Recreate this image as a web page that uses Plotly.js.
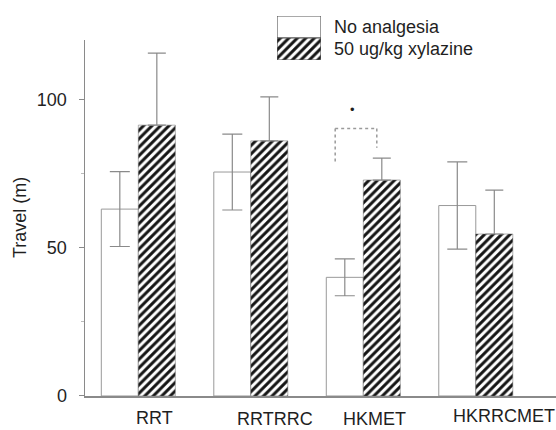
<!DOCTYPE html>
<html>
<head>
<meta charset="utf-8">
<script src="https://cdn.plot.ly/plotly-3.0.1.min.js"></script>
<style>
  html, body { margin: 0; padding: 0; background: #fff; }
  #chart { width: 556px; height: 430px; }
</style>
</head>
<body>
<div id="chart"></div>
<script>
// Travel distance (m) per test, with and without xylazine
const categories = ['RRT', 'RRTRRC', 'HKMET', 'HKRRCMET'];
const noAnalgesia = [63, 75.5, 40, 64.2];
const noAnalgesiaErr = [12.6, 12.8, 6.2, 14.7];
const xylazine = [91.3, 86, 72.8, 54.6];
const xylazineErr = [24.3, 14.8, 7.4, 14.8];
const seriesNames = ['No analgesia', '50 ug/kg xylazine'];
const yTicks = [0, 50, 100];
const significantGroup = 'HKMET';

const FONT = '"Liberation Sans", Arial, Helvetica, sans-serif';
const INK = '#1f1f1f';
const GREY = '#8a8a8a';

const xIdx = categories.map((_, i) => i);
const hatch = { shape: '/', fgcolor: '#151515', bgcolor: '#ffffff', size: 6, solidity: 0.5 };

const traces = [
  {
    type: 'bar', name: seriesNames[0], x: xIdx, y: noAnalgesia,
    marker: { color: '#ffffff', line: { color: '#999', width: 1 } },
    error_y: { type: 'data', array: noAnalgesiaErr, visible: true, color: GREY, thickness: 1.2, width: 10 },
    showlegend: false, hoverinfo: 'skip'
  },
  {
    type: 'bar', name: seriesNames[1], x: xIdx, y: xylazine,
    marker: { color: '#ffffff', pattern: hatch, line: { color: '#666', width: 0.5 } },
    error_y: { type: 'data', symmetric: false, array: xylazineErr, arrayminus: xylazineErr.map(() => 0),
               visible: true, color: GREY, thickness: 1.2, width: 9 },
    showlegend: false, hoverinfo: 'skip'
  },
  // legend key: white half on top, hatched half below, in a small inset axis
  {
    type: 'bar', x: [0], y: [1], base: [1], width: [1], offset: [-0.5],
    xaxis: 'x2', yaxis: 'y2',
    marker: { color: '#ffffff', line: { color: '#555', width: 1.2 } },
    showlegend: false, hoverinfo: 'skip'
  },
  {
    type: 'bar', x: [0], y: [1], base: [0], width: [1], offset: [-0.5],
    xaxis: 'x2', yaxis: 'y2',
    marker: { color: '#ffffff', pattern: hatch, line: { color: '#555', width: 1.2 } },
    showlegend: false, hoverinfo: 'skip'
  }
];

// category labels sit slightly staggered under each group
const labelShiftX = [15.7, 24.2, 10.7, 28.3];
const labelShiftY = [-22.5, -23, -23, -20.5];

const annotations = categories.map((c, i) => ({
  text: c, x: i, y: 0, xref: 'x', yref: 'y',
  xanchor: 'center', yanchor: 'middle',
  xshift: labelShiftX[i], yshift: labelShiftY[i],
  showarrow: false, font: { family: FONT, size: 18, color: INK }
}));

annotations.push({
  text: 'Travel (m)', textangle: -90, x: 0, xref: 'paper', xshift: -65,
  y: 60, yref: 'y', xanchor: 'center', yanchor: 'middle',
  showarrow: false, font: { family: FONT, size: 18, color: INK }
});

seriesNames.forEach((n, k) => {
  annotations.push({
    text: n, x: 0.5244, xref: 'paper', xanchor: 'left',
    y: [0.9547, 0.899][k], yref: 'paper', yanchor: 'middle',
    showarrow: false, font: { family: FONT, size: 18, color: INK }
  });
});

// significance bracket between the two HKMET bars
const g = categories.indexOf(significantGroup);
const brTop = xylazine[g] + xylazineErr[g] + 10;
const brLeft = g - 0.25, brRight = g + 0.12;
const brStyle = { color: '#9a9a9a', width: 1.5, dash: 'dot' };
const shapes = [
  { type: 'line', xref: 'x', yref: 'y', x0: brLeft, x1: brRight, y0: brTop, y1: brTop, line: brStyle },
  { type: 'line', xref: 'x', yref: 'y', x0: brLeft, x1: brLeft, y0: brTop, y1: brTop - 12, line: brStyle },
  { type: 'line', xref: 'x', yref: 'y', x0: brRight, x1: brRight, y0: brTop, y1: brTop - 6.5, line: brStyle }
];
annotations.push({
  text: '•', x: g - 0.1, y: brTop + 6.5, xref: 'x', yref: 'y',
  xanchor: 'center', yanchor: 'middle', showarrow: false,
  font: { family: FONT, size: 13, color: INK }
});

const layout = {
  width: 556, height: 430,
  margin: { l: 85, r: 0, t: 10, b: 34 },
  paper_bgcolor: '#ffffff', plot_bgcolor: '#ffffff',
  barmode: 'group', bargap: 0.342, bargroupgap: 0,
  showlegend: false,
  font: { family: FONT, size: 18, color: INK },
  xaxis: {
    range: [-0.474, 3.713], showgrid: false, zeroline: false,
    showticklabels: false, ticks: '',
    showline: true, linecolor: GREY, linewidth: 1.5
  },
  yaxis: {
    domain: [0, 0.92228], range: [0, 120],
    showgrid: false, zeroline: false,
    showline: true, linecolor: GREY, linewidth: 1.5,
    tickmode: 'array', tickvals: yTicks,
    ticks: 'outside', ticklen: 5, tickcolor: GREY, tickwidth: 1,
    ticklabelstandoff: 8,
    minor: { dtick: 25, ticks: 'outside', ticklen: 3, tickcolor: '#bbb' },
    tickfont: { family: FONT, size: 18, color: INK }
  },
  xaxis2: { domain: [0.4076, 0.5011], range: [-0.5, 0.5], anchor: 'y2', visible: false, fixedrange: true },
  yaxis2: { domain: [0.8705, 0.9845], range: [0, 2], anchor: 'x2', visible: false, fixedrange: true },
  shapes: shapes,
  annotations: annotations
};

Plotly.newPlot('chart', traces, layout, { staticPlot: true, displayModeBar: false });
</script>
</body>
</html>
